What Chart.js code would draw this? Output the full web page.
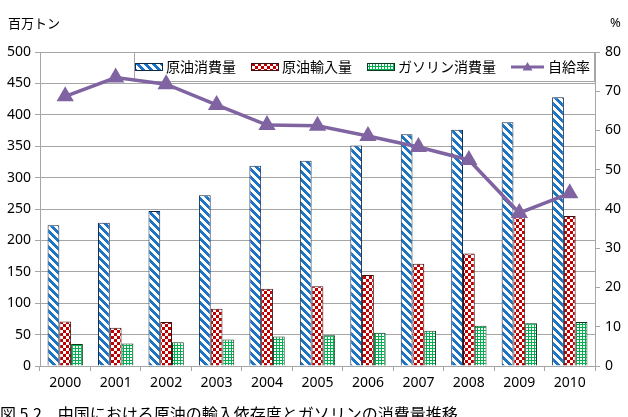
<!DOCTYPE html>
<html>
<head>
<meta charset="utf-8">
<script src="https://cdn.jsdelivr.net/npm/chart.js@4.4.0/dist/chart.umd.min.js"></script>
<style>
html,body{margin:0;padding:0;background:#fff;}
#wrap{width:628px;height:417px;position:relative;}
</style>
</head>
<body>
<div id="wrap"><canvas id="c" width="628" height="417"></canvas></div>
<script>
const years = ['2000','2001','2002','2003','2004','2005','2006','2007','2008','2009','2010'];
const crudeConsumption = [224, 228, 247, 272, 319, 327, 351, 369, 376, 388, 428];
const crudeImport = [71, 61, 70, 91, 123, 127, 145, 163, 179, 237, 239];
const gasolineConsumption = [35, 36, 38, 42, 47, 49, 53, 56, 64, 68, 70];
const selfSufficiency = [68.7, 73.5, 71.8, 66.5, 61.4, 61.2, 58.6, 55.8, 52.5, 39.0, 44.0];
const seriesNames = ['原油消費量', '原油輸入量', 'ガソリン消費量', '自給率'];
const leftTitle = '百万トン';
const rightTitle = '%';
const caption = '図 5.2　中国における原油の輸入依存度とガソリンの消費量推移';

const JP = '"Noto Sans CJK JP", "Noto Sans", sans-serif';
const NUM = '"Noto Sans", "Noto Sans CJK JP", sans-serif';
const GRID = '#a6a6a6';

function makeTile(size, fn) {
  const c = document.createElement('canvas');
  c.width = size; c.height = size;
  const g = c.getContext('2d');
  g.fillStyle = '#ffffff';
  g.fillRect(0, 0, size, size);
  for (let y = 0; y < size; y++) for (let x = 0; x < size; x++) {
    const col = fn(x, y);
    if (col) { g.fillStyle = col; g.fillRect(x, y, 1, 1); }
  }
  return c;
}
const ctx = document.getElementById('c').getContext('2d');
const blueTile = makeTile(8, (x, y) => (((x - y) % 8) + 8) % 8 < 4 ? '#1c75c4' : null);
const redTile = makeTile(6, (x, y) => ((x < 3) !== (y < 3)) ? '#c00000' : null);
const greenTile = makeTile(3, (x, y) => (x === 0 || y === 0) ? '#00b050' : null);
const bluePat = ctx.createPattern(blueTile, 'repeat');
const redPat = ctx.createPattern(redTile, 'repeat');
const greenPat = ctx.createPattern(greenTile, 'repeat');

const textPlugin = {
  id: 'texts',
  afterDraw(chart) {
    const g = chart.ctx;
    g.save();
    g.fillStyle = '#000';
    g.textBaseline = 'middle';
    g.font = '13px ' + JP;
    g.textAlign = 'left';
    g.fillText(leftTitle, 8, 23);
    g.font = '13px ' + NUM;
    g.fillText(rightTitle, 610, 23);
    g.font = '16px ' + JP;
    g.fillText(caption, 0, 414);
    g.restore();
  }
};

const legendPlugin = {
  id: 'boxLegend',
  beforeDatasetsDraw(chart) {
    const g = chart.ctx;
    const area = chart.chartArea;
    const x0 = 134, x1 = area.right, y0 = area.top, y1 = area.top + 29;
    g.save();
    g.fillStyle = '#fff';
    g.fillRect(x0, y0, x1 - x0, y1 - y0);
    g.strokeStyle = GRID;
    g.lineWidth = 1;
    g.strokeRect(x0 + 0.5, y0 + 0.5, x1 - x0 - 1, y1 - y0);
    g.font = '14px ' + JP;
    g.textBaseline = 'middle';
    g.fillStyle = '#000';
    const cy = y0 + 15;
    let x = x0 + 1;
    chart.data.datasets.forEach((ds) => {
      if (ds.type === 'line') {
        g.strokeStyle = ds.borderColor;
        g.lineWidth = 3;
        g.beginPath(); g.moveTo(x, cy); g.lineTo(x + 33, cy); g.stroke();
        g.fillStyle = ds.borderColor;
        g.beginPath();
        const mx = x + 16.5, r = 5;
        g.moveTo(mx, cy - r); g.lineTo(mx + r, cy + r * 0.7); g.lineTo(mx - r, cy + r * 0.7); g.closePath();
        g.fill();
        g.fillStyle = '#000';
        x += 37;
      } else {
        g.fillStyle = ds.backgroundColor;
        g.fillRect(x, cy - 4, 28, 8);
        g.strokeStyle = ds.borderColor;
        g.lineWidth = 1;
        g.strokeRect(x + 0.5, cy - 3.5, 27, 7);
        g.fillStyle = '#000';
        x += 31;
      }
      g.fillText(ds.label, x, cy);
      x += g.measureText(ds.label).width + 15;
    });
    g.restore();
  }
};

new Chart(ctx, {
  data: {
    labels: years,
    datasets: [
      { type: 'bar', label: seriesNames[0], data: crudeConsumption, yAxisID: 'y', order: 1,
        backgroundColor: bluePat, borderColor: '#102a4c', borderWidth: 1 },
      { type: 'bar', label: seriesNames[1], data: crudeImport, yAxisID: 'y', order: 1,
        backgroundColor: redPat, borderColor: '#3a1010', borderWidth: 1 },
      { type: 'bar', label: seriesNames[2], data: gasolineConsumption, yAxisID: 'y', order: 1,
        backgroundColor: greenPat, borderColor: '#0c3a1c', borderWidth: 1 },
      { type: 'line', label: seriesNames[3], data: selfSufficiency, yAxisID: 'y1', order: 0,
        borderColor: '#8064a2', backgroundColor: '#8064a2', borderWidth: 3.5,
        pointStyle: 'triangle', pointRadius: 6.5, pointBackgroundColor: '#8064a2', pointBorderColor: '#8064a2',
        tension: 0, fill: false }
    ]
  },
  options: {
    responsive: false,
    animation: false,
    events: [],
    datasets: { bar: { categoryPercentage: 0.7, barPercentage: 1.0 } },
    layout: { padding: { top: 52, left: 0, right: 0, bottom: 0 } },
    plugins: { legend: { display: false }, tooltip: { enabled: false }, title: { display: false } },
    scales: {
      x: {
        offset: true,
        grid: { offset: true, drawOnChartArea: false, drawTicks: true, tickLength: 5, color: GRID },
        border: { color: GRID },
        ticks: { color: '#000', font: { family: NUM, size: 14 }, padding: 4, maxRotation: 0 },
        afterFit(s) { s.height = 51; }
      },
      y: {
        position: 'left', min: 0, max: 500,
        grid: { color: GRID, tickLength: 5 },
        border: { color: GRID },
        ticks: { stepSize: 50, color: '#000', font: { family: NUM, size: 14 }, padding: 4 },
        afterFit(s) { s.width = 40; }
      },
      y1: {
        position: 'right', min: 0, max: 80,
        grid: { drawOnChartArea: false, color: GRID, tickLength: 5 },
        border: { color: GRID },
        ticks: { stepSize: 10, color: '#000', font: { family: NUM, size: 14 }, padding: 5 },
        afterFit(s) { s.width = 33; }
      }
    }
  },
  plugins: [legendPlugin, textPlugin]
});
</script>
</body>
</html>
